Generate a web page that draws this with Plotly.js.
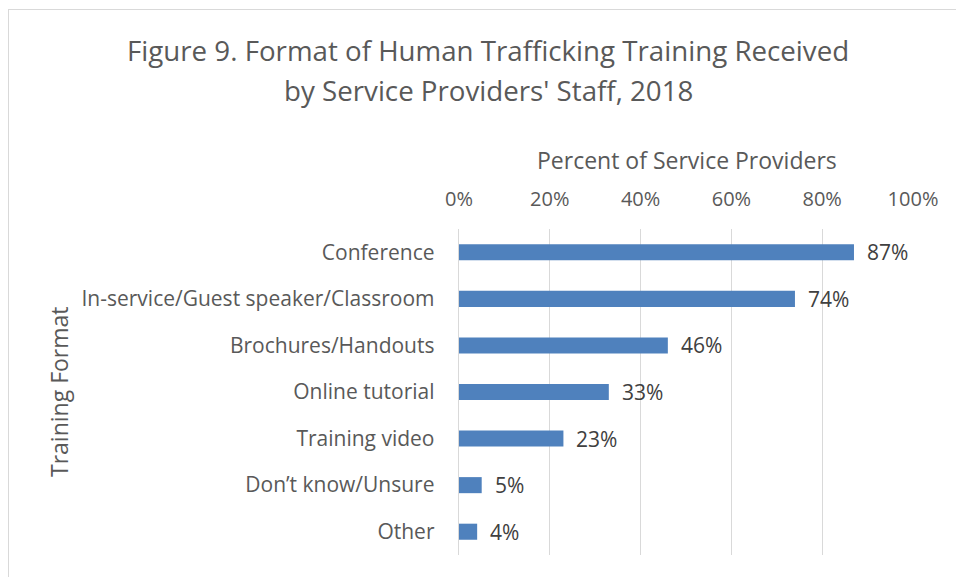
<!DOCTYPE html>
<html>
<head>
<meta charset="utf-8">
<script src="https://cdn.plot.ly/plotly-3.0.1.min.js"></script>
<style>
html,body{margin:0;padding:0;background:#fff;}
#chart{width:956px;height:577px;position:relative;}
#frame{position:absolute;left:8px;top:9px;width:1000px;height:700px;border-left:1px solid #d9d9d9;border-top:1px solid #d9d9d9;pointer-events:none;}
</style>
</head>
<body>
<div id="wrap" style="position:relative;width:956px;height:577px;overflow:hidden;">
<div id="chart"></div>
<div id="frame"></div>
</div>
<script>
var categories = ["Conference","In-service/Guest speaker/Classroom","Brochures/Handouts","Online tutorial","Training video","Don\u2019t know/Unsure","Other"];
var percents = [0.87, 0.74, 0.46, 0.33, 0.23, 0.05, 0.04];
var labels = ["87%","74%","46%","33%","23%","5%","4%"];
var tickVals = [0, 0.2, 0.4, 0.6, 0.8, 1.0];
var tickText = ["0%","20%","40%","60%","80%","100%"];
var titleLines = ["Figure 9. Format of Human Trafficking Training Received", "by Service Providers' Staff, 2018"];
var xTitle = "Percent of Service Providers";
var yTitle = "Training Format";

var FONT = "'Open Sans', sans-serif";
var GREY = "#595959";
var trace = {
  type: "bar",
  orientation: "h",
  x: percents,
  y: categories,
  marker: {color: "#4F81BD"},
  hoverinfo: "none"
};
var annotations = percents.map(function (v, i) {
  return {
    x: v, y: categories[i], xref: "x", yref: "y",
    text: labels[i], showarrow: false,
    xanchor: "left", yanchor: "middle", xshift: 11,
    font: {family: FONT, size: 21, color: "#404040"}
  };
});
// plot area: x 459..913, y 229..555
function px(xp) { return (xp - 459) / 454; }
function py(yp) { return (555 - yp) / 326; }
annotations.push({xref: "paper", yref: "paper", x: px(488), y: py(50), xanchor: "center", yanchor: "middle",
  text: titleLines[0], showarrow: false, font: {family: FONT, size: 27.7, color: GREY}});
annotations.push({xref: "paper", yref: "paper", x: px(488), y: py(90), xanchor: "center", yanchor: "middle",
  text: titleLines[1], showarrow: false, font: {family: FONT, size: 27.7, color: GREY}});
annotations.push({xref: "paper", yref: "paper", x: px(686.5), y: py(160), xanchor: "center", yanchor: "middle",
  text: xTitle, showarrow: false, font: {family: FONT, size: 23, color: GREY}});
annotations.push({xref: "paper", yref: "paper", x: px(59), y: py(392), xanchor: "center", yanchor: "middle",
  text: yTitle, textangle: -90, showarrow: false, font: {family: FONT, size: 23, color: GREY}});

var layout = {
  width: 956, height: 577,
  margin: {l: 459, r: 43, t: 229, b: 22},
  paper_bgcolor: "#ffffff",
  plot_bgcolor: "#ffffff",
  bargap: 0.655,
  showlegend: false,
  font: {family: FONT, color: GREY},
  annotations: annotations,
  xaxis: {
    side: "top",
    range: [0, 1],
    tickvals: tickVals,
    ticktext: tickText,
    tickfont: {family: FONT, size: 20, color: GREY},
    showgrid: true,
    gridcolor: "#d9d9d9",
    gridwidth: 1.3,
    zeroline: false,
    showline: false,
    ticks: "",
    ticklabelstandoff: 18
  },
  yaxis: {
    autorange: "reversed",
    tickfont: {family: FONT, size: 21, color: GREY},
    ticks: "",
    showline: true,
    linecolor: "#d9d9d9",
    linewidth: 1.3,
    showgrid: false,
    ticklabelstandoff: 19
  }
};
Plotly.newPlot("chart", [trace], layout, {displayModeBar: false, staticPlot: true});
</script>
</body>
</html>
